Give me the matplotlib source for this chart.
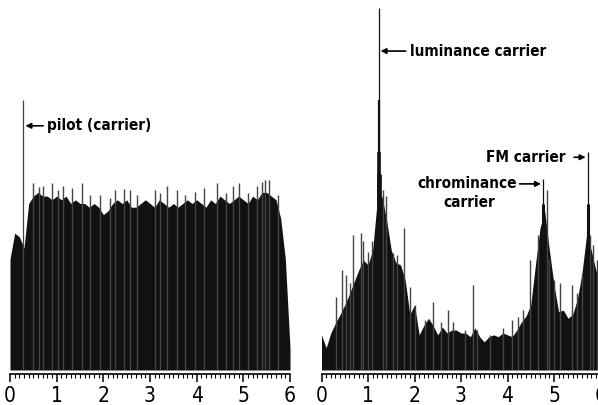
import numpy as np
import matplotlib
matplotlib.use('Agg')
import matplotlib.pyplot as plt
from matplotlib.ticker import MultipleLocator

plt.rcParams['font.family'] = ['DejaVu Sans']
plt.rcParams['font.stretch'] = 'condensed'

# frequency grid for the envelopes (0 .. 6, step 0.1)
freq = np.round(np.arange(0, 6.01, 0.1), 2)

# left spectrum: noise floor envelope
left_level = [30, 37, 36, 33, 45, 47, 48, 47, 47, 46,
              47, 46, 47, 45, 46, 45, 45, 44, 45, 44,
              42, 43, 45, 46, 45, 46, 44, 44, 45, 46,
              45, 44, 46, 45, 44, 45, 44, 45, 46, 45,
              46, 45, 44, 46, 45, 47, 46, 45, 46, 47,
              46, 45, 47, 46, 48, 48, 47, 46, 41, 30,
              6]

# left spectrum: narrow spikes above the envelope
left_spike_f = [0.49, 0.62, 0.71, 0.90, 1.03, 1.14, 1.33, 1.54, 1.71, 1.93,
                2.14, 2.25, 2.44, 2.57, 2.72, 3.11, 3.21, 3.36, 3.58, 3.75,
                3.96, 4.16, 4.44, 4.63, 4.78, 4.91, 5.10, 5.29, 5.40, 5.46,
                5.55, 5.74]
left_spike_a = [50.5, 49.5, 49.7, 50.5, 48.6, 49.7, 49.2, 50.5, 47.3, 47.3,
                46.5, 48.6, 48.9, 48.6, 47.3, 48.6, 47.8, 49.7, 48.6, 47.3,
                48.1, 49.2, 50.5, 47.8, 49.7, 50.5, 47.8, 49.7, 50.8, 51.4,
                51.4, 47.3]
pilot_f = 0.28
pilot_a = 73

# right spectrum: envelope
right_level = [9.5, 6, 10, 12.7, 15, 17.6, 20.5, 23.8, 27, 29.7,
               28.4, 32.4, 46, 47, 40.5, 32.4, 29, 28.4, 24.3, 15,
               17.6, 9.5, 12, 14, 12, 9.5, 11.6, 10, 10.8, 10.8,
               10, 10, 9, 11.4, 9, 7.6, 9, 9.5, 9, 10,
               9.5, 9, 10.8, 13, 14.6, 17.6, 28.4, 38.4, 43, 32.4,
               23, 15.7, 16.2, 14, 15, 19, 26, 36.5, 32.4, 27,
               23]

# right spectrum: spikes
right_spike_f = [0.31, 0.45, 0.53, 0.61, 0.68, 0.86, 0.90, 1.01, 1.08, 1.32,
                 1.39, 1.53, 1.62, 1.78, 1.90, 2.01, 2.23, 2.39, 2.57, 2.71,
                 2.83, 3.09, 3.25, 3.34, 3.62, 3.91, 4.09, 4.23, 4.34, 4.48,
                 4.66, 4.84, 4.90, 5.01, 5.13, 5.38, 5.49, 5.60, 5.77, 5.84,
                 5.92]
right_spike_a = [19.7, 27, 25.7, 23.5, 36.5, 37, 35, 32, 35, 48.6,
                 47, 31.6, 31, 38.3, 22.5, 17.6, 13.5, 18.4, 13, 16.2,
                 13, 10.8, 23, 10.8, 9.5, 11.4, 13.5, 14.3, 16.2, 29.7,
                 36.5, 48.6, 30, 24.3, 23.5, 23, 20.8, 26, 36.5, 33.8,
                 29.7]

# carrier peaks (thin tip plus thicker core)
lum_f = 1.23
lum_a = [97.8, 73, 59, 53]
chroma_f = 4.77
chroma_a = [51.5, 45]
fm_f = 5.73
fm_a = [59, 45]

fig = plt.figure(figsize=(5.98, 4.05), dpi=100)
ax1 = fig.add_axes([10 / 598, 35 / 405, 280 / 598, 370 / 405])
ax2 = fig.add_axes([321.5 / 598, 35 / 405, 279 / 598, 370 / 405])

dark = '#111111'
grey = '#444444'
font = dict(fontsize=11, fontweight='bold', stretch='condensed')


def style(ax):
    ax.set_xlim(0, 6)
    ax.set_ylim(0, 100)
    for s in ['top', 'left', 'right']:
        ax.spines[s].set_visible(False)
    ax.spines['bottom'].set_position(('outward', 3))
    ax.spines['bottom'].set_linewidth(1.2)
    ax.set_yticks([])
    ax.xaxis.set_major_locator(MultipleLocator(1))
    ax.xaxis.set_minor_locator(MultipleLocator(0.1))
    ax.tick_params(axis='x', which='major', length=5.5, width=1.1, pad=3, labelsize=15)
    ax.tick_params(axis='x', which='minor', length=2.8, width=0.8)
    ax.set_xticks(range(7))
    ax.set_xticklabels([str(i) for i in range(7)])
    for lab in ax.get_xticklabels():
        lab.set_fontstretch('condensed')


# left panel
ax1.fill_between(freq, 0, left_level, color=dark, lw=0)
ax1.vlines(left_spike_f, 0, left_spike_a, color=grey, lw=1)
ax1.vlines([pilot_f], 0, [pilot_a], color=grey, lw=0.9)
style(ax1)
ax1.annotate('pilot (carrier)', xy=(pilot_f + 0.05, 66), xytext=(0.8, 66),
             va='center', ha='left', **font,
             arrowprops=dict(arrowstyle='-|>', color='black', lw=1.2,
                             shrinkA=1, shrinkB=0, mutation_scale=8))

# right panel
ax2.fill_between(freq, 0, right_level, color=dark, lw=0)
ax2.vlines(right_spike_f, 0, right_spike_a, color=grey, lw=1)
ax2.vlines([lum_f] * 4, 0, lum_a, color=dark, lw=[0.9, 1.6, 2.6, 3.4])
ax2.vlines([chroma_f] * 2, 0, chroma_a, color=dark, lw=[0.9, 2.2])
ax2.vlines([fm_f] * 2, 0, fm_a, color=dark, lw=[0.9, 2.2])
style(ax2)
ax2.annotate('luminance carrier', xy=(lum_f + 0.04, 86.2), xytext=(1.9, 86.2),
             va='center', ha='left', **font,
             arrowprops=dict(arrowstyle='-|>', color='black', lw=1.2,
                             shrinkA=1, shrinkB=0, mutation_scale=8))
ax2.annotate('chrominance', xy=(chroma_f - 0.05, 50.3), xytext=(4.2, 50.3),
             va='center', ha='right', **font,
             arrowprops=dict(arrowstyle='-|>', color='black', lw=1.2,
                             shrinkA=0, shrinkB=0, mutation_scale=8))
ax2.text(3.18, 45.4, 'carrier', va='center', ha='center', **font)
ax2.annotate('FM carrier', xy=(fm_f - 0.05, 57.5), xytext=(5.25, 57.5),
             va='center', ha='right', **font,
             arrowprops=dict(arrowstyle='-|>', color='black', lw=1.2,
                             shrinkA=4, shrinkB=0, mutation_scale=8))

fig.savefig('out.png', dpi=100, facecolor='white')
